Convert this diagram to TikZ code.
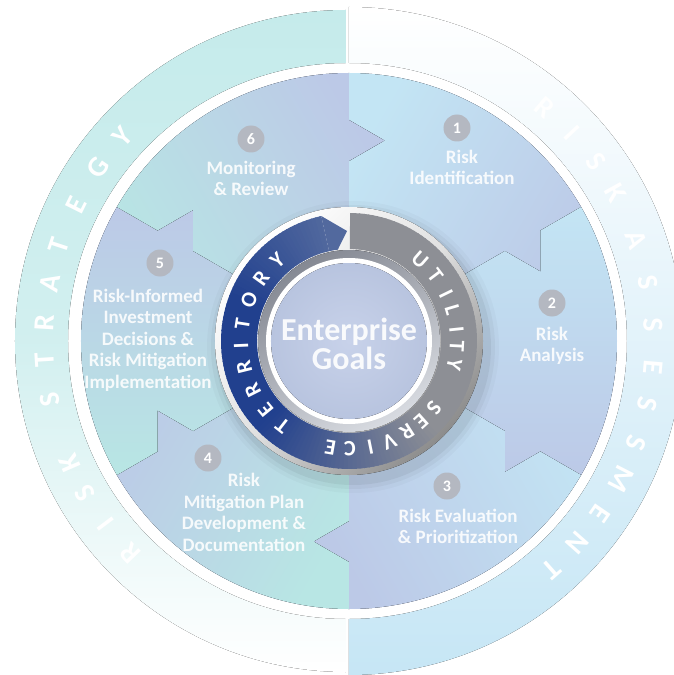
\documentclass[tikz,border=0pt]{standalone}
\usepackage{fontspec}
\setmainfont{Carlito}
\usetikzlibrary{calc}
\definecolor{tealA}{HTML}{B8E6E4}
\definecolor{blueA}{HTML}{C3E5F4}
\definecolor{periA}{HTML}{BCC9E7}
\definecolor{ringTeal}{HTML}{C5EBEB}
\definecolor{ringBlue}{HTML}{C6E6F5}
\definecolor{bandGray}{HTML}{8D8F95}
\definecolor{bandBlue}{HTML}{21408E}
\definecolor{bandTip}{HTML}{52699E}
\definecolor{numGray}{HTML}{B4B8C1}
\definecolor{diskIn}{HTML}{C8D2EA}
\definecolor{diskOut}{HTML}{B8C4DF}
\definecolor{bevelDark}{HTML}{858993}
\definecolor{bevelLight}{HTML}{D8DBE1}
\tikzset{
  outerletter/.style={text=white, font=\bfseries\fontsize{29}{29}\selectfont, inner sep=0pt, anchor=center},
  ringletter/.style={text=white, font=\bfseries\fontsize{22}{22}\selectfont, inner sep=0pt, anchor=center},
  steplabel/.style={text=white, text opacity=0.88, font=\bfseries\fontsize{19}{21.5}\selectfont, align=center, inner sep=0pt},
  numdot/.style={circle, fill=numGray, minimum size=27pt, inner sep=0pt, text=white, font=\bfseries\fontsize{16}{16}\selectfont},
  goaltext/.style={text=white, text opacity=0.9, font=\bfseries\fontsize{32}{29}\selectfont, align=center, inner sep=0pt},
}
\begin{document}
\begin{tikzpicture}[x=1pt,y=1pt]
\useasboundingbox (-349,-334) rectangle (325,341);
% outer ring halves
\fill[top color=ringTeal, bottom color=white, middle color=ringTeal!78!white, xshift=-3pt]
  (90:331) arc[start angle=90,end angle=270,radius=331] -- (270:278)
  arc[start angle=270,end angle=90,radius=278] -- cycle;
\fill[top color=white, bottom color=ringBlue, middle color=ringBlue!50!white]
  (90:334) arc[start angle=90,end angle=-90,radius=334] -- (-90:278)
  arc[start angle=-90,end angle=90,radius=278] -- cycle;
% ring letters
\foreach \ch/\ang [count=\i] in {R/224, I/217, S/210, K/203.5, S/191, T/183.6, R/176.6, A/169, T/161.8, E/153.5, G/145.4, Y/138}
  \node[outerletter, rotate=\ang-90] (ls\i) at (\ang:305) {\ch};
\foreach \ch/\ang [count=\i] in {R/50, I/43, S/36, K/29, A/19.5, S/11, S/3, E/-5, S/-12, S/-19.5, M/-27, E/-34.5, N/-41.5, T/-48.5}
  \node[outerletter, rotate=\ang-90] (ra\i) at (\ang:305) {\ch};
% disk
\fill[periA] (0,0) circle[radius=268];
\foreach \s/\c in {90/blueA, 30/blueA, -30/blueA, -90/tealA, -150/tealA, 150/tealA} {
  \pgfmathsetmacro\ee{\s-60}
  \pgfmathsetmacro\sa{\s-30-180}
  \fill[bottom color=\c, top color=periA, shading angle=\sa]
    (0,0) -- (\s:180) -- ($(\s:200.5)+(\s-90:35.5)$) -- (\s:221) -- (\s:268)
    arc[start angle=\s, end angle=\ee, radius=268]
    -- (\ee:221) -- ($(\ee:200.5)+(\ee-90:35.5)$) -- (\ee:180) -- cycle;
}
% shadow of centre ring
\foreach \r/\o in {146/0.025, 142/0.035, 138/0.05}
  \fill[black, opacity=\o] (4,-6) circle[radius=\r];
% outer rim
\fill[top color=white, bottom color=black!45, middle color=white!88!black, shading angle=45] (0,0) circle[radius=134];
% band
\foreach \k in {0,...,173} {
  \pgfmathsetmacro\aa{89.5-2*\k}
  \pgfmathsetmacro\bb{max(\aa-2.6,-257.5)}
  \pgfmathsetmacro\mixT{min(100,max(0,(-45-\aa)/90*100))}
  \pgfmathsetmacro\mixU{min(100,max(0,(-200-\aa)/58*100))}
  \fill[bandTip!\mixU!bandBlue!\mixT!bandGray] (\aa:128) arc[start angle=\aa,end angle=\bb,radius=128]
    -- (\bb:92) arc[start angle=\bb,end angle=\aa,radius=92] -- cycle;
}
\fill[bandTip] (-257.5:128) -- (-269:110) -- (-263:92) arc[start angle=-263,end angle=-257.5,radius=92] -- cycle;
% inner bevel, rim and disk
\fill[top color=bevelDark, bottom color=bevelLight, shading angle=30] (0,0) circle[radius=91];
\fill[white] (0,0) circle[radius=83];
\fill[inner color=diskIn, outer color=diskOut] (0,0) circle[radius=78];
% band letters
\foreach \ch/\ang [count=\i] in {U/49, T/37, I/26, L/16.5, I/6, T/-3, Y/-12.5}
  \node[ringletter, rotate=\ang-90] (ut\i) at (\ang:108) {\ch};
\foreach \ch/\ang [count=\i] in {S/-38, E/-48, R/-57.5, V/-68, I/-78.5, C/-89.5, E/-100}
  \node[ringletter, rotate=\ang-90] (se\i) at (\ang:108) {\ch};
\foreach \ch/\ang [count=\i] in {T/232, E/219.6, R/206.9, R/193.9, I/182.4, T/171.1, O/157.8, R/144.3, Y/131.5}
  \node[ringletter, rotate=\ang-90] (te\i) at (\ang:108) {\ch};
% centre text
\node[goaltext] (goal) at (0,-3) {Enterprise\\Goals};
% steps
\node[numdot] (n1) at (108,213) {1};
\node[steplabel] (l1) at (113,173.5) {Risk\\Identification};
\node[numdot] (n2) at (203,38) {2};
\node[steplabel] (l2) at (203,-5) {Risk\\Analysis};
\node[numdot] (n3) at (98,-145) {3};
\node[steplabel] (l3) at (109,-185.5) {Risk Evaluation\\\& Prioritization};
\node[numdot] (n4) at (-141,-117) {4};
\node[steplabel] (l4) at (-105,-171.5) {Risk\\Mitigation Plan\\Development \&\\Documentation};
\node[numdot] (n5) at (-189,78) {5};
\node[steplabel] (l5) at (-201,1) {Risk-Informed\\Investment\\Decisions \&\\Risk Mitigation\\Implementation};
\node[numdot] (n6) at (-98,202) {6};
\node[steplabel] (l6) at (-98,162.5) {Monitoring\\\& Review};
\end{tikzpicture}
\end{document}
